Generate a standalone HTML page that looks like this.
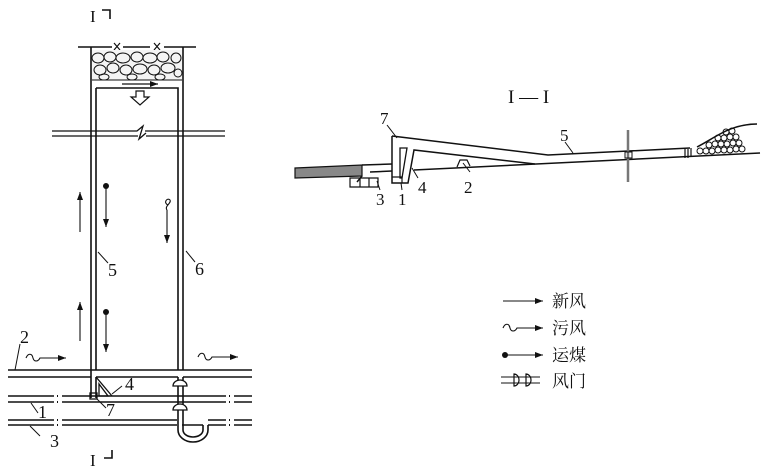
<!DOCTYPE html>
<html><head><meta charset="utf-8"><style>
html,body{margin:0;padding:0;background:#fff;}
svg{display:block;}
text{font-family:"Liberation Serif","Noto Serif CJK SC",serif;fill:#111;}
.c{font-family:"Liberation Sans","Noto Sans CJK SC",sans-serif;}
</style></head><body>
<svg width="768" height="470" viewBox="0 0 768 470" xmlns="http://www.w3.org/2000/svg">
<defs>
<marker id="ah" markerWidth="8" markerHeight="6" refX="8" refY="3" orient="auto" markerUnits="userSpaceOnUse"><path d="M0,0 L8,3 L0,6 Z" fill="#111"/></marker>
</defs>
<g stroke="#111" stroke-width="1.6" fill="none">
<text x="90" y="22" font-size="17" stroke="none">I</text>
<path d="M102,10 H110 V19"/>
<text x="90" y="466" font-size="17" stroke="none">I</text>
<path d="M104,458 H112 V450"/>
<path d="M78,47 H112 M123,47 H150 M164,47 H196"/>
<path d="M114,43 l6,7 M120,43 l-6,7 M154,43 l6,7 M160,43 l-6,7" stroke-width="1.2"/>
<rect x="92" y="50" width="90" height="30" fill="#f4f4f4" stroke="none"/>
<g stroke-width="1">
<ellipse cx="98" cy="58" rx="6" ry="5"/><ellipse cx="110" cy="57" rx="6" ry="5"/><ellipse cx="123" cy="58" rx="7" ry="5"/><ellipse cx="137" cy="57" rx="6" ry="5"/><ellipse cx="150" cy="58" rx="7" ry="5"/><ellipse cx="163" cy="57" rx="6" ry="5"/><ellipse cx="176" cy="58" rx="5" ry="5"/>
<ellipse cx="100" cy="70" rx="6" ry="5"/><ellipse cx="113" cy="68" rx="6" ry="5"/><ellipse cx="126" cy="70" rx="6" ry="5"/><ellipse cx="140" cy="69" rx="7" ry="5"/><ellipse cx="154" cy="70" rx="6" ry="5"/><ellipse cx="168" cy="68" rx="7" ry="5"/><ellipse cx="178" cy="73" rx="4" ry="4"/>
<ellipse cx="104" cy="77" rx="5" ry="3"/><ellipse cx="132" cy="77" rx="5" ry="3"/><ellipse cx="160" cy="77" rx="5" ry="3"/>
</g>
<path d="M91,47 V398 M96,88 V370 M96,377 V398"/>
<path d="M96,88 H178 V370 M183,47 V370"/>
<path d="M92,80 H182" stroke-width="1"/>
<path d="M122,84 H158" stroke-width="1.2" marker-end="url(#ah)"/>
<path d="M136,91 h8 v6 h5 l-9,8 l-9,-8 h5 z" stroke-width="1.2" fill="#fff"/>
<!-- break -->
<path d="M52,131 H137 L143,126 L139,139 L146,133 M145,131 H225 M52,136 H138 M146,136 H225" stroke-width="1.3"/>
<path d="M8,370 H252 M8,377 H91 M96,377 H178 M183,377 H252"/>
<path d="M8,396 H54 M62,396 H226 M234,396 H252 M8,402 H54 M62,402 H226 M234,402 H252"/>
<path d="M57,396h1 M57,402h1 M229,396h1 M229,402h1" stroke-width="2"/>
<path d="M8,420 H54 M62,420 H177 M208,420 H226 M234,420 H252 M8,425 H54 M62,425 H177 M182,425 H203 M208,425 H226 M234,425 H252"/>
<path d="M57,420h1 M57,425h1 M229,420h1 M229,425h1" stroke-width="2"/>
<path d="M178,377 V430 A15,12 0 0 0 208,430 V425"/>
<path d="M183,377 V430 A10,7 0 0 0 203,430 V425"/>
<path d="M173,386 a7,6 0 0 1 14,0 z M173,410 a7,6 0 0 1 14,0 z" fill="#fff" stroke-width="1.3"/>
<path d="M96,377 L112,396 M99,384 L99,396 L108,396 Z" stroke-width="1.3"/>
<rect x="90" y="393" width="7" height="6" stroke-width="1.3"/>
<path d="M80,232 V192" stroke-width="1.1" marker-end="url(#ah)"/>
<circle cx="106" cy="186" r="3" fill="#111" stroke="none"/>
<path d="M106,188 V227" stroke-width="1.1" marker-end="url(#ah)"/>
<path d="M168,205 c-5,-2 -1,-8 2,-5 c2,3 -6,6 -3,10 M167,210 V243" stroke-width="1.1" marker-end="url(#ah)"/>
<path d="M80,341 V302" stroke-width="1.1" marker-end="url(#ah)"/>
<circle cx="106" cy="312" r="3" fill="#111" stroke="none"/>
<path d="M106,314 V352" stroke-width="1.1" marker-end="url(#ah)"/>
<path d="M26,358 c2,-5 6,-5 7,0 c1,4 5,4 7,0 H66" stroke-width="1.1" marker-end="url(#ah)"/>
<path d="M198,357 c2,-5 6,-5 7,0 c1,4 5,4 7,0 H238" stroke-width="1.1" marker-end="url(#ah)"/>
<path d="M20,344 L15,370 M98,252 L108,263 M186,251 L195,262 M112,394 L122,386 M97,399 L106,408 M31,403 L38,413 M30,426 L40,436" stroke-width="1"/>
</g>
<g font-size="18">
<text x="20" y="343">2</text><text x="108" y="276">5</text><text x="195" y="275">6</text>
<text x="125" y="390">4</text><text x="106" y="416">7</text><text x="38" y="418">1</text><text x="50" y="447">3</text>
</g>

<text x="508" y="103" font-size="19">I — I</text>
<g stroke="#111" stroke-width="1.5" fill="none">
<path d="M295,168 L362,165 L362,176 L295,178 Z" fill="#888" stroke="#111" stroke-width="1.2"/>
<path d="M362,165 L392,164 M362,176 L357,182 M370,172 L392,171"/>
<path d="M350,178 h28 v9 h-28 z M360,178 v9 M369,178 v9" stroke-width="1.2"/>
<path d="M392,136 V183 H404 L408,183 L414,150 L535,164"/>
<path d="M392,136 L548,155 L690,148"/>
<path d="M400,148 h7 L402,178 h-2 z" stroke-width="1.3"/>
<path d="M392,177 h10 v6" stroke-width="1.2"/>
<path d="M414,170 L760,153"/>
<path d="M457,167 l3,-7 h7 l3,6" stroke-width="1.2"/>
<path d="M628,130 V182" stroke="#777" stroke-width="2.5"/>
<path d="M625,152 h7 v6 h-7z" stroke-width="1"/>
<path d="M685,149 v9 M688,149 v9 M691,148 v9" stroke-width="1.2"/>
<path d="M697,147 C715,138 730,124 757,124"/>
<g stroke-width="1">
<circle cx="700" cy="151" r="3"/><circle cx="706" cy="151" r="3"/><circle cx="712" cy="151" r="3"/><circle cx="718" cy="150" r="3"/><circle cx="724" cy="150" r="3"/><circle cx="730" cy="150" r="3"/><circle cx="736" cy="149" r="3"/><circle cx="742" cy="149" r="3"/>
<circle cx="709" cy="145" r="3"/><circle cx="715" cy="144" r="3"/><circle cx="721" cy="144" r="3"/><circle cx="727" cy="144" r="3"/><circle cx="733" cy="143" r="3"/><circle cx="739" cy="143" r="3"/>
<circle cx="718" cy="138" r="3"/><circle cx="724" cy="138" r="3"/><circle cx="730" cy="137" r="3"/><circle cx="736" cy="137" r="3"/>
<circle cx="726" cy="132" r="3"/><circle cx="732" cy="131" r="3"/>
</g>
<path d="M387,125 L397,138 M377,181 L380,190 M401,183 L402,190 M412,168 L418,178 M463,163 L470,172 M565,142 L573,153" stroke-width="1"/>
</g>
<g font-size="17">
<text x="380" y="124">7</text><text x="560" y="141">5</text>
<text x="376" y="205">3</text><text x="398" y="205">1</text><text x="418" y="193">4</text><text x="464" y="193">2</text>
</g>

<g stroke="#111" stroke-width="1.1" fill="none">
<path d="M503,301 H543" marker-end="url(#ah)"/>
<path d="M503,328 c2,-5 6,-5 7,0 c1,4 5,4 7,0 H543" marker-end="url(#ah)"/>
<path d="M505,355 H543" marker-end="url(#ah)"/>
<path d="M501,377 H540 M501,383 H540"/>
<path d="M514,374 a5,6 0 0 1 0,12 z M526,374 a5,6 0 0 1 0,12 z" stroke-width="1.2"/>
</g>
<circle cx="505" cy="355" r="3" fill="#111"/>
<g class="c" font-size="17">
<text x="552" y="307">新风</text><text x="552" y="334">污风</text><text x="552" y="361">运煤</text><text x="552" y="387">风门</text>
</g>
</svg>
</body></html>
